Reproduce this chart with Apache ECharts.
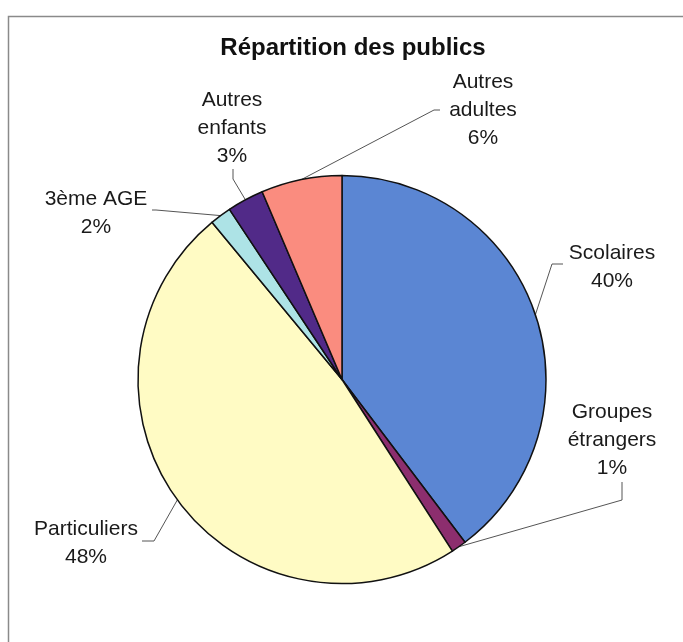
<!DOCTYPE html>
<html><head><meta charset="utf-8">
<script src="https://cdn.jsdelivr.net/npm/echarts@6/dist/echarts.min.js"></script>
<style>html,body{margin:0;padding:0;background:#fff}#c{width:683px;height:642px}</style>
</head><body><div id="c"></div>
<script>
const categories = ['Scolaires', 'Groupes\nétrangers', 'Particuliers', '3ème AGE', 'Autres\nenfants', 'Autres\nadultes'];
const values = [39.7, 1.2, 48.1, 1.7, 2.9, 6.4];
const colors = ['#5b86d3', '#8c2e6e', '#fffbc4', '#ade3e6', '#512a88', '#fa8c7f'];

// label placement (centre of text block) and leader line bends
const labelCenters = [[612, 267], [612, 440], [86, 543], [96, 213], [232, 128], [483, 110]];
const leaderBends = [
  [[552, 264], [563, 264]],
  [[622, 500], [622, 482]],
  [[154, 541], [142, 541]],
  [[156, 210], [152, 210]],
  [[233, 179], [233, 169]],
  [[434, 110], [440, 110]]
];

const chart = echarts.init(document.getElementById('c'));
chart.setOption({
  animation: false,
  backgroundColor: '#fff',
  title: {
    text: 'Répartition des publics',
    left: 353,
    textAlign: 'center',
    top: 36,
    padding: 0,
    textStyle: { fontFamily: 'Liberation Sans', fontWeight: 'bold', fontSize: 24, color: '#111' }
  },
  graphic: [{
    type: 'rect', left: 6, top: 14, shape: { width: 720, height: 700 },
    style: { fill: 'none', stroke: '#8a8a8a', lineWidth: 1.5 }, silent: true
  }],
  series: [{
    type: 'pie',
    center: [342, 379.5],
    radius: 204,
    startAngle: 90,
    clockwise: true,
    data: categories.map((n, i) => ({ name: n, value: values[i], itemStyle: { color: colors[i] } })),
    itemStyle: { borderColor: '#111', borderWidth: 1.5 },
    label: {
      show: true,
      position: 'outside',
      overflow: 'none',
      formatter: p => p.name + '\n' + Math.round(p.percent) + '%',
      fontFamily: 'Liberation Sans',
      fontSize: 21,
      lineHeight: 28,
      color: '#1a1a1a',
      align: 'center'
    },
    labelLine: { show: true, lineStyle: { color: '#555', width: 1 } },
    labelLayout: function (params) {
      const i = params.dataIndex;
      const start = params.labelLinePoints ? params.labelLinePoints[0] : null;
      const out = {
        x: labelCenters[i][0],
        y: labelCenters[i][1],
        align: 'center',
        verticalAlign: 'middle'
      };
      if (start) {
        out.labelLinePoints = [start, leaderBends[i][0], leaderBends[i][1]];
      }
      return out;
    }
  }]
});
</script>
</body></html>
